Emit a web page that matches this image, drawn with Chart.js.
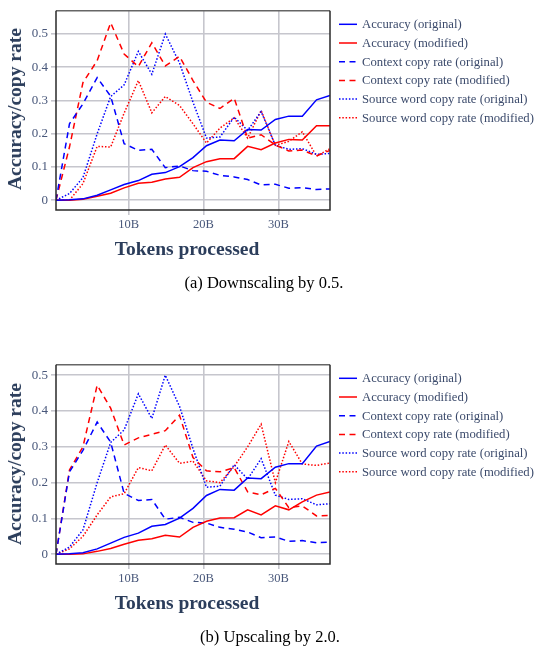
<!DOCTYPE html>
<html><head><meta charset="utf-8">
<script src="https://cdn.jsdelivr.net/npm/chart.js@4.4.1/dist/chart.umd.min.js"></script>
<style>
html,body{margin:0;padding:0;background:#fff;width:541px;height:654px;overflow:hidden;position:relative;}
.wrap{position:absolute;left:0;width:541px;height:270px;}
canvas{display:block;}
.ytitle{position:absolute;left:15px;font:bold 19.5px 'Liberation Serif',serif;color:#2b3d5b;white-space:nowrap;transform:translate(-50%,-50%) rotate(-90deg);}
.xtitle{position:absolute;left:187px;font:bold 19.5px 'Liberation Serif',serif;color:#2b3d5b;white-space:nowrap;transform:translate(-50%,-50%);}
.cap{position:absolute;font:16.5px 'Liberation Serif',serif;color:#000;white-space:nowrap;transform:translate(-50%,-50%);}
</style>
</head><body>
<div class="wrap" style="top:0px"><canvas id="c1" width="541" height="270"></canvas></div>
<div class="ytitle" style="top:109px">Accuracy/copy rate</div>
<div class="xtitle" style="top:249px">Tokens processed</div>
<div class="cap" style="left:264px;top:283px">(a) Downscaling by 0.5.</div>

<div class="wrap" style="top:354px"><canvas id="c2" width="541" height="270"></canvas></div>
<div class="ytitle" style="top:464px">Accuracy/copy rate</div>
<div class="xtitle" style="top:603px">Tokens processed</div>
<div class="cap" style="left:270px;top:637px">(b) Upscaling by 2.0.</div>

<script>
// ---- data (tokens processed, in billions) ----
const tokens = [0.3, 2.1, 3.9, 5.8, 7.6, 9.4, 11.3, 13.1, 14.9, 16.8, 18.6, 20.4, 22.2, 24.1, 25.9, 27.7, 29.6, 31.4, 33.2, 35.1, 36.9];

// original model (same in both panels)
const accuracyOriginal = [0, 0.001, 0.004, 0.015, 0.031, 0.047, 0.059, 0.078, 0.083, 0.101, 0.128, 0.164, 0.181, 0.179, 0.213, 0.211, 0.243, 0.253, 0.253, 0.302, 0.315];
const contextCopyOriginal = [0, 0.23, 0.29, 0.369, 0.313, 0.17, 0.15, 0.153, 0.098, 0.103, 0.089, 0.087, 0.075, 0.070, 0.062, 0.046, 0.048, 0.036, 0.038, 0.032, 0.034];
const sourceCopyOriginal = [0, 0.02, 0.068, 0.2, 0.312, 0.347, 0.448, 0.379, 0.5, 0.413, 0.295, 0.187, 0.19, 0.25, 0.21, 0.267, 0.165, 0.153, 0.155, 0.138, 0.141];

// (a) downscaling by 0.5
const accuracyDown = [0, 0, 0.003, 0.012, 0.021, 0.037, 0.051, 0.054, 0.064, 0.069, 0.098, 0.116, 0.125, 0.125, 0.162, 0.152, 0.172, 0.183, 0.181, 0.224, 0.224];
const contextCopyDown = [0, 0.16, 0.354, 0.42, 0.534, 0.44, 0.402, 0.474, 0.404, 0.433, 0.36, 0.295, 0.276, 0.307, 0.187, 0.197, 0.166, 0.148, 0.151, 0.133, 0.15];
const sourceCopyDown = [0, 0, 0.05, 0.162, 0.16, 0.262, 0.36, 0.263, 0.312, 0.285, 0.23, 0.172, 0.217, 0.248, 0.187, 0.27, 0.165, 0.177, 0.206, 0.133, 0.155];

// (b) upscaling by 2.0
const accuracyUp = [0, 0, 0.001, 0.008, 0.016, 0.028, 0.039, 0.043, 0.053, 0.048, 0.075, 0.092, 0.101, 0.102, 0.124, 0.11, 0.135, 0.124, 0.146, 0.165, 0.174];
const contextCopyUp = [0, 0.235, 0.3, 0.472, 0.408, 0.305, 0.325, 0.335, 0.345, 0.388, 0.27, 0.233, 0.23, 0.242, 0.174, 0.166, 0.184, 0.13, 0.135, 0.107, 0.108];
const sourceCopyUp = [0, 0.015, 0.05, 0.11, 0.16, 0.169, 0.242, 0.233, 0.305, 0.254, 0.26, 0.205, 0.2, 0.245, 0.3, 0.363, 0.2, 0.315, 0.252, 0.248, 0.255];

const seriesLabels = ['Accuracy (original)', 'Accuracy (modified)', 'Context copy rate (original)', 'Context copy rate (modified)', 'Source word copy rate (original)', 'Source word copy rate (modified)'];
const xTickValues = [10, 20, 30];
const xTickLabels = ['10B', '20B', '30B'];
const yTickValues = [0, 0.1, 0.2, 0.3, 0.4, 0.5];
const yTickLabels = ['0', '0.1', '0.2', '0.3', '0.4', '0.5'];

const BLUE = '#0000ff', RED = '#ff0000';
const DASH = [6, 4.5], DOT = [1.5, 1.8];
const styles = [
  {c: BLUE, d: []}, {c: RED, d: []},
  {c: BLUE, d: DASH}, {c: RED, d: DASH},
  {c: BLUE, d: DOT}, {c: RED, d: DOT}
];
const TICK_COLOR = '#48577a';
const GRID = '#c6c6cd';

function pts(arr){ return tokens.map((t, i) => ({x: t, y: arr[i]})); }

const framePlugin = {
  id: 'frame',
  afterDatasetsDraw(chart){
    const a = chart.chartArea, ctx = chart.ctx;
    ctx.save();
    ctx.lineWidth = 1.5;
    ctx.strokeStyle = '#666';
    ctx.beginPath(); ctx.moveTo(a.left, a.top); ctx.lineTo(a.right, a.top); ctx.stroke();
    ctx.strokeStyle = '#2a2a2a';
    ctx.beginPath();
    ctx.moveTo(a.left, a.top); ctx.lineTo(a.left, a.bottom); ctx.lineTo(a.right, a.bottom); ctx.lineTo(a.right, a.top);
    ctx.stroke();
    ctx.restore();
  }
};

const legendPlugin = {
  id: 'customLegend',
  afterDraw(chart){
    const ctx = chart.ctx, a = chart.chartArea;
    ctx.save();
    ctx.font = '12.7px "Liberation Serif", serif';
    ctx.textBaseline = 'middle';
    ctx.fillStyle = '#3b4a6b';
    chart.data.datasets.forEach((ds, i) => {
      const y = a.top + 13.5 + i * 18.7;
      ctx.strokeStyle = ds.borderColor;
      ctx.lineWidth = 1.5;
      ctx.setLineDash(ds.borderDash || []);
      ctx.beginPath(); ctx.moveTo(a.right + 9, y); ctx.lineTo(a.right + 27, y); ctx.stroke();
      ctx.setLineDash([]);
      ctx.fillText(ds.label, a.right + 32, y + 0.5);
    });
    ctx.restore();
  }
};

function makeChart(id, seriesList, yMin, yMax){
  new Chart(document.getElementById(id), {
    type: 'line',
    data: {
      datasets: seriesList.map((s, i) => ({
        label: seriesLabels[i],
        data: pts(s),
        borderColor: styles[i].c,
        borderDash: styles[i].d,
        borderWidth: 1.5,
        pointRadius: 0,
        tension: 0,
        fill: false
      }))
    },
    options: {
      responsive: false,
      animation: false,
      devicePixelRatio: 1,
      layout: {padding: {left: 0, top: 7, right: 211, bottom: 0}},
      plugins: {legend: {display: false}, tooltip: {enabled: false}},
      scales: {
        x: {
          type: 'linear',
          min: tokens[0], max: tokens[tokens.length - 1],
          afterFit(s){ s.height = 60; },
          afterBuildTicks(s){ s.ticks = xTickValues.map(v => ({value: v})); },
          ticks: {
            callback: (v, i) => xTickLabels[i],
            color: TICK_COLOR, padding: 2, maxRotation: 0,
            font: {family: '"Liberation Serif", serif', size: 12.5}
          },
          grid: {color: GRID, lineWidth: 1.6, tickLength: 5, drawTicks: true},
          border: {display: false}
        },
        y: {
          type: 'linear',
          min: yMin, max: yMax,
          afterFit(s){ s.width = 56; },
          afterBuildTicks(s){ s.ticks = yTickValues.map(v => ({value: v})); },
          ticks: {
            callback: (v, i) => yTickLabels[i],
            color: TICK_COLOR, padding: 3,
            font: {family: '"Liberation Serif", serif', size: 13}
          },
          grid: {color: GRID, lineWidth: 1.6, tickLength: 5, drawTicks: true},
          border: {display: false}
        }
      }
    },
    plugins: [framePlugin, legendPlugin]
  });
}

makeChart('c1', [accuracyOriginal, accuracyDown, contextCopyOriginal, contextCopyDown, sourceCopyOriginal, sourceCopyDown], -0.0295, 0.570);
makeChart('c2', [accuracyOriginal, accuracyUp, contextCopyOriginal, contextCopyUp, sourceCopyOriginal, sourceCopyUp], -0.0273, 0.529);
</script>
</body></html>
